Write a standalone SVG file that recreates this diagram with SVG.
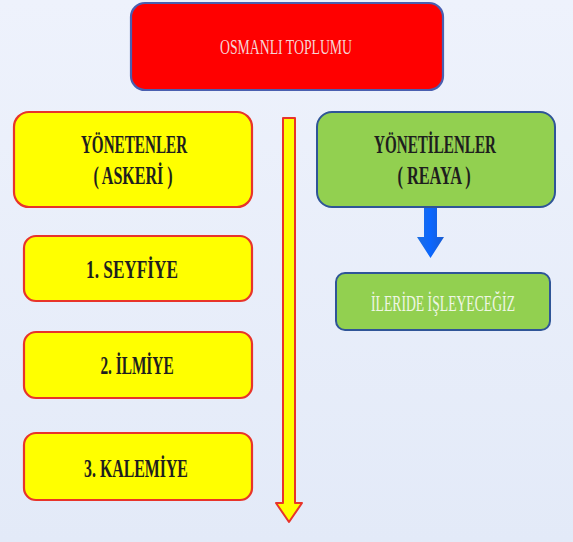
<svg xmlns="http://www.w3.org/2000/svg" width="573" height="542" viewBox="0 0 573 542">
<defs>
<linearGradient id="bg" x1="0" y1="0" x2="0" y2="1">
<stop offset="0" stop-color="#eef2fc"/>
<stop offset="1" stop-color="#e3eaf8"/>
</linearGradient>
<linearGradient id="blue" x1="0" y1="0" x2="1" y2="0">
<stop offset="0" stop-color="#1f6fe0"/>
<stop offset="0.5" stop-color="#0a66ff"/>
<stop offset="1" stop-color="#1a5cd0"/>
</linearGradient>
<style>
.yel{fill:#ffff00;stroke:#e8342a;stroke-width:2.2}
.grn{fill:#92d050;stroke:#2f5597;stroke-width:2}
.red{fill:#ff0000;stroke:#4a5fb0;stroke-width:2.2}
.t{font-family:"Liberation Serif",serif;font-weight:bold;font-size:26px;fill:#1e1e1e;text-anchor:middle}
.tl{font-family:"Liberation Serif",serif;font-size:22px;fill:#f6d4d4;text-anchor:middle}
.tw{font-family:"Liberation Serif",serif;font-size:24px;fill:#eef6e4;text-anchor:middle}
</style>
</defs>
<rect width="573" height="542" fill="url(#bg)"/>
<g id="connectors">
<path d="M283,118 H295 V503 H302 L289,522 L276,503 H283 Z" fill="#ffff00" stroke="#e8342a" stroke-width="2" stroke-linejoin="round"/>
<path d="M424,208 H437 V237 H444 L430.5,258 L417,237 H424 Z" fill="url(#blue)"/>
</g>
<g id="osmanli">
<rect class="red" x="131" y="3" width="312" height="87" rx="14"/>
<text class="tl" transform="translate(286,54) scale(0.6,1)" textLength="220" lengthAdjust="spacingAndGlyphs">OSMANLI TOPLUMU</text>
</g>
<g id="yonetenler">
<rect class="yel" x="14" y="112" width="238" height="95" rx="15"/>
<text class="t" transform="translate(134,153) scale(0.6,1)" textLength="177" lengthAdjust="spacingAndGlyphs">YÖNETENLER</text>
<text class="t" transform="translate(133,184) scale(0.6,1)" textLength="132" lengthAdjust="spacingAndGlyphs">( ASKERİ )</text>
</g>
<g id="seyfiye">
<rect class="yel" x="24" y="236" width="228" height="65" rx="12"/>
<text class="t" transform="translate(132,278) scale(0.6,1)" textLength="153" lengthAdjust="spacingAndGlyphs">1. SEYFİYE</text>
</g>
<g id="ilmiye">
<rect class="yel" x="24" y="332" width="228" height="66" rx="12"/>
<text class="t" transform="translate(137,374) scale(0.6,1)" textLength="122" lengthAdjust="spacingAndGlyphs">2. İLMİYE</text>
</g>
<g id="kalemiye">
<rect class="yel" x="24" y="433" width="228" height="67" rx="12"/>
<text class="t" transform="translate(136,477) scale(0.6,1)" textLength="173" lengthAdjust="spacingAndGlyphs">3. KALEMİYE</text>
</g>
<g id="yonetilenler">
<rect class="grn" x="317" y="112" width="238" height="95" rx="15"/>
<text class="t" transform="translate(435,153) scale(0.6,1)" textLength="203" lengthAdjust="spacingAndGlyphs">YÖNETİLENLER</text>
<text class="t" transform="translate(434,184) scale(0.6,1)" textLength="122" lengthAdjust="spacingAndGlyphs">( REAYA )</text>
</g>
<g id="ileride">
<rect class="grn" x="336" y="273" width="214" height="57" rx="9"/>
<text class="tw" transform="translate(443,311) scale(0.6,1)" textLength="240" lengthAdjust="spacingAndGlyphs">İLERİDE İŞLEYECEĞİZ</text>
</g>
</svg>
